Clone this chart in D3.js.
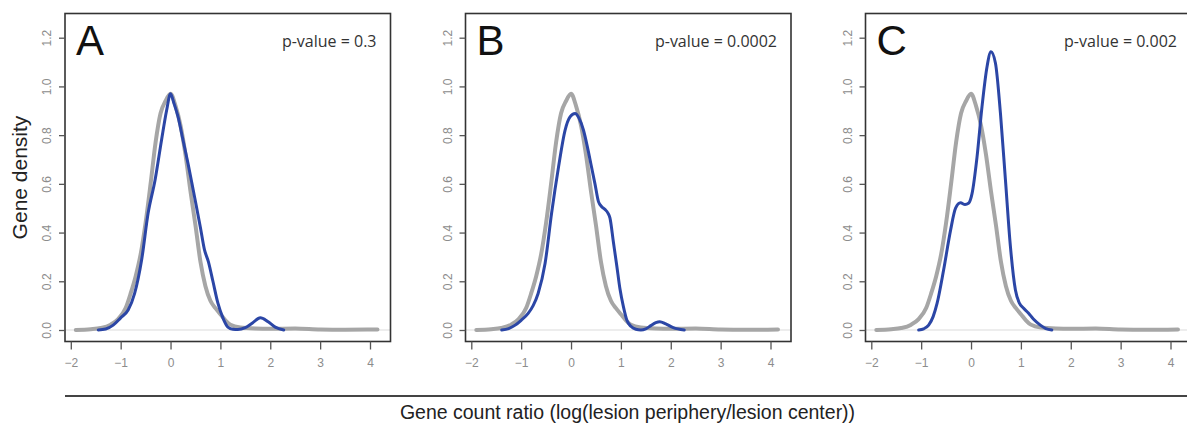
<!DOCTYPE html>
<html><head><meta charset="utf-8">
<script src="https://cdn.jsdelivr.net/npm/d3@7"></script>
<style>body{margin:0;background:#fff}svg{display:block}</style>
</head><body>
<script>
// ---- data ----
const panelLabels = ["A", "B", "C"];
const pValues = ["p-value = 0.3", "p-value = 0.0002", "p-value = 0.002"];
const xTicks = [-2, -1, 0, 1, 2, 3, 4];
const yTicks = [0, 0.2, 0.4, 0.6, 0.8, 1.0, 1.2];

// reference (gray) density, same in all panels
const refX = [-1.9,-1.6,-1.4,-1.2,-1.05,-0.9,-0.8,-0.7,-0.6,-0.5,-0.4,-0.3,-0.2,-0.1,0,0.1,0.2,0.3,0.4,0.5,0.6,0.7,0.8,0.9,1.0,1.1,1.2,1.4,1.7,2.0,2.5,3.0,3.5,4.15];
const refY = [0.0,0.003,0.008,0.022,0.045,0.09,0.15,0.22,0.31,0.44,0.6,0.77,0.89,0.94,0.97,0.92,0.84,0.72,0.57,0.43,0.28,0.18,0.12,0.09,0.065,0.04,0.022,0.01,0.006,0.005,0.006,0.002,0.001,0.002];

// panel A (blue)
const aX = [-1.45,-1.3,-1.15,-1.0,-0.85,-0.72,-0.58,-0.45,-0.31,-0.18,-0.08,0,0.07,0.15,0.25,0.35,0.45,0.52,0.6,0.68,0.76,0.85,0.95,1.05,1.15,1.25,1.35,1.5,1.65,1.8,1.95,2.1,2.27];
const aY = [0,0.004,0.02,0.05,0.082,0.15,0.287,0.479,0.616,0.78,0.9,0.97,0.93,0.876,0.78,0.684,0.58,0.506,0.42,0.33,0.28,0.2,0.11,0.05,0.012,0.003,0.002,0.01,0.03,0.05,0.035,0.012,0];
// panel B (blue)
const bX = [-1.39,-1.25,-1.12,-1.0,-0.86,-0.76,-0.66,-0.52,-0.39,-0.25,-0.12,-0.02,0.08,0.16,0.25,0.33,0.41,0.48,0.55,0.62,0.68,0.74,0.78,0.85,0.92,0.98,1.05,1.12,1.2,1.3,1.4,1.5,1.6,1.7,1.78,1.9,2.05,2.27];
const bY = [0,0.006,0.02,0.04,0.068,0.1,0.15,0.274,0.479,0.67,0.82,0.875,0.889,0.87,0.82,0.75,0.67,0.6,0.527,0.505,0.495,0.48,0.46,0.36,0.26,0.17,0.096,0.04,0.015,0.003,0.0,0.005,0.018,0.03,0.034,0.025,0.01,0];
// panel C (blue)
const cX = [-1.05,-0.95,-0.85,-0.76,-0.68,-0.55,-0.41,-0.31,-0.21,-0.12,-0.05,0.02,0.12,0.22,0.32,0.4,0.49,0.59,0.69,0.79,0.89,0.97,1.05,1.15,1.25,1.39,1.5,1.62];
const cY = [0,0.005,0.02,0.055,0.11,0.246,0.41,0.5,0.522,0.515,0.52,0.56,0.71,0.917,1.08,1.142,1.095,0.889,0.616,0.342,0.164,0.11,0.09,0.07,0.045,0.02,0.006,0];

const blueX = [aX, bX, cX];
const blueY = [aY, bY, cY];

// ---- layout ----
const W = 1187, H = 424;
const svg = d3.select("body").append("svg").attr("width", W).attr("height", H)
  .style("font-family", "'Liberation Sans', Arial, sans-serif");

const panelLeft = [65, 465.5, 865.5];
const boxW = 325.5, boxTop = 13.5, boxBottom = 341.5;
const tickCol = "#8c8c8c";

const y = d3.scaleLinear().domain([0, 1.2]).range([330, 37.7]);

panelLabels.forEach((lab, i) => {
  const L = panelLeft[i];
  const x = d3.scaleLinear().domain([-2, 4]).range([L + 5.8, L + 305]);
  const g = svg.append("g");

  // zero line
  g.append("line").attr("x1", L).attr("x2", L + boxW)
    .attr("y1", y(0)).attr("y2", y(0)).attr("stroke", "#dcdcdc").attr("stroke-width", 1.2);

  const line = d3.line().x(d => x(d[0])).y(d => y(d[1])).curve(d3.curveMonotoneX);
  g.append("path").datum(refX.map((v, k) => [v, refY[k]]))
    .attr("d", line).attr("fill", "none").attr("stroke", "#a6a6a6")
    .attr("stroke-width", 4).attr("stroke-linejoin", "round").attr("stroke-linecap", "round");
  g.append("path").datum(blueX[i].map((v, k) => [v, blueY[i][k]]))
    .attr("d", line).attr("fill", "none").attr("stroke", "#2b46a6")
    .attr("stroke-width", 3).attr("stroke-linejoin", "round").attr("stroke-linecap", "round");

  // box
  g.append("rect").attr("x", L).attr("y", boxTop).attr("width", boxW)
    .attr("height", boxBottom - boxTop).attr("fill", "none")
    .attr("stroke", "#333").attr("stroke-width", 1.6);

  // x axis
  const xa = g.append("g").attr("transform", `translate(0,${boxBottom})`)
    .call(d3.axisBottom(x).tickValues(xTicks).tickSize(8).tickPadding(9).tickFormat(d3.format("d")));
  xa.select(".domain").remove();
  xa.selectAll("line").attr("stroke", "#555").attr("stroke-width", 1.3);
  xa.selectAll("text").attr("fill", tickCol).style("font-size", "12px");

  // y axis
  const ya = g.append("g").attr("transform", `translate(${L},0)`)
    .call(d3.axisLeft(y).tickValues(yTicks).tickSize(6).tickFormat(d3.format(".1f")));
  ya.select(".domain").remove();
  ya.selectAll("line").attr("stroke", "#555").attr("stroke-width", 1.3);
  ya.selectAll("text")
    .attr("x", null).attr("dy", null)
    .attr("text-anchor", "middle")
    .attr("transform", "translate(-14,0) rotate(-90)")
    .attr("y", 0)
    .attr("fill", tickCol).style("font-size", "12px");

  // panel letter
  g.append("text").attr("x", L + 11).attr("y", 55).text(lab)
    .style("font-size", "42px").attr("fill", "#111");
  // p-value
  g.append("text").attr("x", L + boxW - 14).attr("y", 47).attr("text-anchor", "end")
    .text(pValues[i]).style("font-family", "'Open Sans', sans-serif")
    .style("font-size", "16px").attr("fill", "#333");
});

// bottom rule
svg.append("line").attr("x1", 65).attr("x2", W).attr("y1", 396).attr("y2", 396)
  .attr("stroke", "#444").attr("stroke-width", 2);

// axis titles
svg.append("text").attr("x", 627.5).attr("y", 419).attr("text-anchor", "middle")
  .text("Gene count ratio (log(lesion periphery/lesion center))")
  .style("font-size", "19.5px").attr("fill", "#222");
svg.append("text").attr("transform", "translate(27,177.5) rotate(-90)")
  .attr("text-anchor", "middle").text("Gene density")
  .style("font-size", "21px").attr("fill", "#222");
</script>
</body></html>
